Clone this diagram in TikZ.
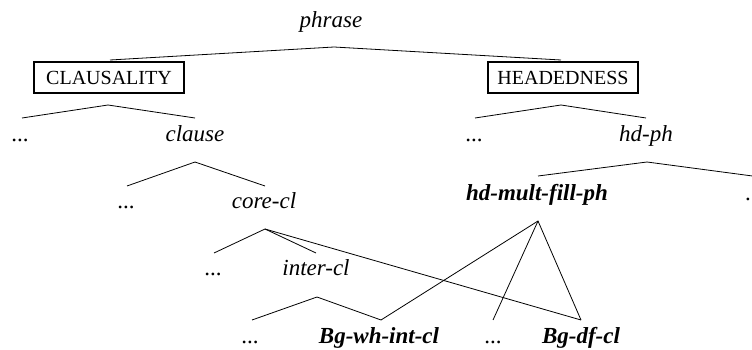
\documentclass[tikz,border=0pt]{standalone}
\usepackage{fontspec}
\setmainfont{Liberation Serif}
\begin{document}
\begin{tikzpicture}[x=1pt,y=-1pt,
  lbl/.style={anchor=base,inner sep=0pt,font=\fontsize{23}{27}\selectfont\itshape},
  bl/.style={anchor=base,inner sep=0pt,font=\fontsize{23}{27}\selectfont\bfseries\itshape},
  dots/.style={anchor=base,inner sep=0pt,font=\fontsize{23}{27}\selectfont},
  typebox/.style={draw,line width=1.6pt,minimum width=150pt,minimum height=31pt,inner sep=0pt,font=\fontsize{20}{24}\selectfont},
  edge/.style={line width=0.8pt}]
\useasboundingbox (0,0) rectangle (752,350);
\begin{scope}
\clip (0,0) rectangle (752,350);
% nodes
\node[lbl] (phrase) at (331,28) {phrase};
\node[typebox] (claus) at (109,77.5) {CLAUSALITY};
\node[typebox] (head) at (563,77.5) {HEADEDNESS};
\node[dots] (d1) at (20,142) {...};
\node[lbl] (clause) at (195,142) {clause};
\node[dots] (d2) at (126,208) {...};
\node[lbl] (corecl) at (264,208) {core-cl};
\node[dots] (d3) at (213,275) {...};
\node[lbl] (intercl) at (316,275) {inter-cl};
\node[dots] (d4) at (250,343) {...};
\node[bl] (bgwh) at (379,343) {Bg-wh-int-cl};
\node[dots] (d5) at (493,343) {...};
\node[bl] (bgdf) at (581,343) {Bg-df-cl};
\node[dots] (d6) at (474,142) {...};
\node[lbl] (hdph) at (646,142) {hd-ph};
\node[bl] (hdmf) at (537,200) {hd-mult-fill-ph};
\node[dots,anchor=base west] (d7) at (745,200) {...};
% connector points
\coordinate (aPhrase) at (334,47);
\coordinate (tClaus) at (110,60);
\coordinate (tHead) at (561,60);
\coordinate (aClaus) at (108,105);
\coordinate (tD1) at (22,118);
\coordinate (tClause) at (195,118);
\coordinate (aClause) at (195,162);
\coordinate (tD2) at (127,186);
\coordinate (tCore) at (265,186);
\coordinate (aCore) at (265,229);
\coordinate (tD3) at (214,253);
\coordinate (tInter) at (316,253);
\coordinate (aInter) at (317,297);
\coordinate (tD4) at (252,320);
\coordinate (tBgwh) at (381,320);
\coordinate (tD5) at (493,320);
\coordinate (tBgdf) at (581,320);
\coordinate (aHead) at (561,105);
\coordinate (tD6) at (475,118);
\coordinate (tHdph) at (646,118);
\coordinate (aHdph) at (647,162);
\coordinate (tHdmf) at (538,176);
\coordinate (tD7) at (760,177);
\coordinate (aHdmf) at (538,221);
% connectors
\draw[edge] (tClaus) -- (aPhrase) -- (tHead);
\draw[edge] (tD1) -- (aClaus) -- (tClause);
\draw[edge] (tD2) -- (aClause) -- (tCore);
\draw[edge] (tD3) -- (aCore) -- (tInter);
\draw[edge] (aCore) -- (tBgdf);
\draw[edge] (tD4) -- (aInter) -- (tBgwh);
\draw[edge] (tD6) -- (aHead) -- (tHdph);
\draw[edge] (tHdmf) -- (aHdph) -- (tD7);
\draw[edge] (tBgwh) -- (aHdmf) -- (tBgdf);
\draw[edge] (aHdmf) -- (tD5);
\end{scope}
\end{tikzpicture}
\end{document}
